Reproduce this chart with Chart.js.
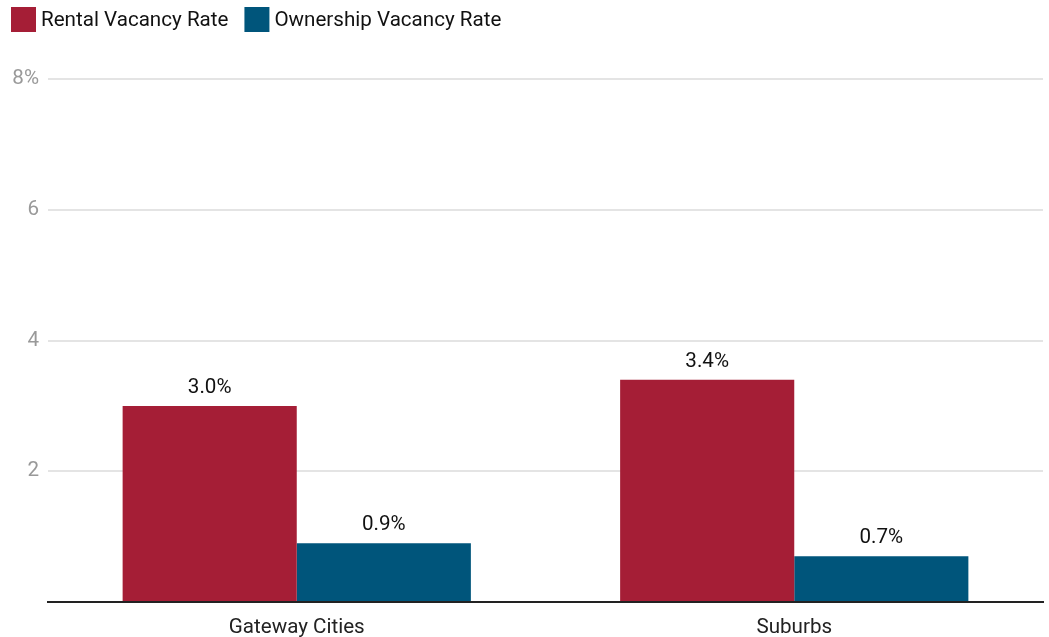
<!DOCTYPE html>
<html>
<head>
<meta charset="utf-8">
<script src="https://cdn.jsdelivr.net/npm/chart.js@4"></script>
<style>
html,body{margin:0;padding:0;background:#fff;}
#wrap{width:1049px;height:637px;position:relative;}
</style>
</head>
<body>
<div id="wrap"><canvas id="c" width="1049" height="637"></canvas></div>
<script>
const categories = ["Gateway Cities", "Suburbs"];
const rentalVacancy = [3.0, 3.4];
const ownershipVacancy = [0.9, 0.7];
const seriesNames = ["Rental Vacancy Rate", "Ownership Vacancy Rate"];
const seriesColors = ["#A51E36", "#00557B"];
const yTicks = [0, 2, 4, 6, 8];

const FONT = "Roboto, 'Liberation Sans', sans-serif";
const FS = 20.6;

const valueLabels = {
  id: 'valueLabels',
  afterDatasetsDraw(chart) {
    const ctx = chart.ctx;
    ctx.save();
    ctx.font = FS + "px " + FONT;
    ctx.fillStyle = "#111";
    ctx.textAlign = "center";
    ctx.textBaseline = "alphabetic";
    chart.data.datasets.forEach((ds, i) => {
      const meta = chart.getDatasetMeta(i);
      meta.data.forEach((bar, j) => {
        ctx.fillText(ds.data[j].toFixed(1) + "%", bar.x, bar.y - 13);
      });
    });
    ctx.restore();
  }
};

const topLegend = {
  id: 'topLegend',
  afterDraw(chart) {
    const ctx = chart.ctx;
    ctx.save();
    ctx.font = FS + "px " + FONT;
    ctx.textBaseline = "middle";
    ctx.textAlign = "left";
    let x = 11;
    const y = 7, box = 25;
    chart.data.datasets.forEach((ds) => {
      ctx.fillStyle = ds.backgroundColor;
      ctx.fillRect(x, y, box, box);
      ctx.fillStyle = "#111";
      const tx = x + box + 5;
      ctx.fillText(ds.label, tx, y + box / 2 + 1);
      x = tx + ctx.measureText(ds.label).width + 16;
    });
    ctx.restore();
  }
};

new Chart(document.getElementById('c'), {
  type: 'bar',
  data: {
    labels: categories,
    datasets: [
      { label: seriesNames[0], data: rentalVacancy, backgroundColor: seriesColors[0], categoryPercentage: 0.7, barPercentage: 1.0 },
      { label: seriesNames[1], data: ownershipVacancy, backgroundColor: seriesColors[1], categoryPercentage: 0.7, barPercentage: 1.0 }
    ]
  },
  options: {
    responsive: false,
    animation: false,
    devicePixelRatio: 1,
    layout: { padding: { left: 0, right: 6, top: 79, bottom: 0 } },
    plugins: {
      legend: { display: false },
      tooltip: { enabled: false }
    },
    scales: {
      x: {
        grid: { display: false },
        border: { display: true, color: '#222', width: 2 },
        ticks: { color: '#222', font: { family: FONT, size: FS }, padding: 5 },
        afterFit(s) { s.height = 35; }
      },
      y: {
        min: 0, max: 8,
        afterBuildTicks(s) { s.ticks = yTicks.map(v => ({ value: v })); },
        grid: { color: '#e4e4e4', lineWidth: 2, drawTicks: false },
        border: { display: false },
        ticks: {
          color: '#999',
          font: { family: FONT, size: FS },
          padding: 9,
          callback(v) { return v === 0 ? '' : (v === 8 ? v + '%' : String(v)); }
        },
        afterFit(s) { s.width = 48; }
      }
    }
  },
  plugins: [valueLabels, topLegend]
});
</script>
</body>
</html>
